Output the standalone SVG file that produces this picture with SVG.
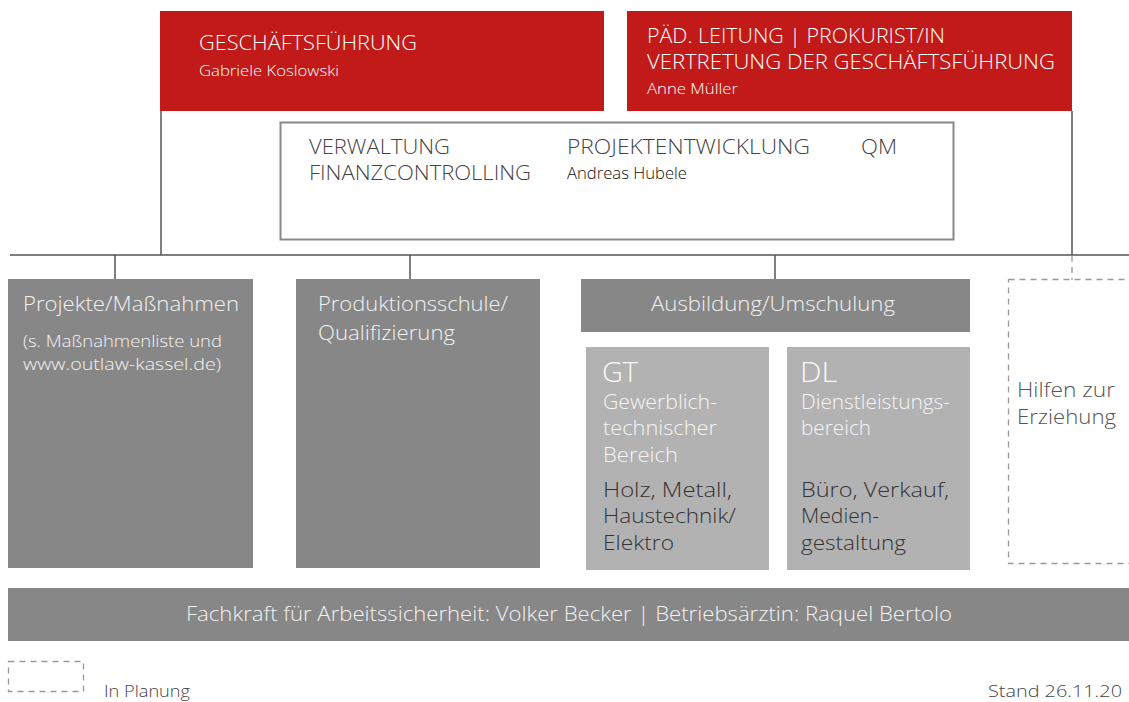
<svg xmlns="http://www.w3.org/2000/svg" width="1129" height="702" viewBox="0 0 1129 702">
<style>
text{font-family:"Open Sans","Noto Sans","Liberation Sans",sans-serif;font-weight:300;}
.red{fill:#c11a19;}
.dk{fill:#878787;}
.lt{fill:#b2b2b2;}
.ln{stroke:#555;stroke-width:1.5;fill:none;}
.dash{stroke:#999;stroke-width:1.3;fill:none;stroke-dasharray:6 5;}
.h1{font-size:19.5px;fill:#fff;}
.s1{font-size:15px;fill:#fff;}
.mh{font-size:20px;fill:#444;}
.wt{font-size:20px;fill:#f2f2f2;}
.big{font-size:27px;fill:#fafafa;}
.wt2{font-size:19.5px;fill:#f5f5f5;}
.bk{font-size:19.5px;fill:#333;}
</style>
<g id="connectors">
<line class="ln" x1="161" y1="111" x2="161" y2="255"/>
<line class="ln" x1="1072" y1="111" x2="1072" y2="255"/>
<line class="ln" x1="10" y1="255" x2="1129" y2="255"/>
<line class="ln" x1="115" y1="255" x2="115" y2="279"/>
<line class="ln" x1="410" y1="255" x2="410" y2="279"/>
<line class="ln" x1="775" y1="255" x2="775" y2="279"/>
<line class="dash" x1="1072" y1="256" x2="1072" y2="280"/>
</g>
<g id="gf">
<rect class="red" x="160" y="11" width="444" height="100"/>
<text class="h1" x="199" y="50" textLength="218" lengthAdjust="spacingAndGlyphs">GESCHÄFTSFÜHRUNG</text>
<text class="s1" x="199" y="76" textLength="140" lengthAdjust="spacingAndGlyphs">Gabriele Koslowski</text>
</g>
<g id="paed">
<rect class="red" x="627" y="11" width="445" height="100"/>
<text class="h1" x="647" y="43" textLength="298" lengthAdjust="spacingAndGlyphs">PÄD. LEITUNG | PROKURIST/IN</text>
<text class="h1" x="647" y="69" textLength="408" lengthAdjust="spacingAndGlyphs">VERTRETUNG DER GESCHÄFTSFÜHRUNG</text>
<text class="s1" x="647" y="94" textLength="91" lengthAdjust="spacingAndGlyphs">Anne Müller</text>
</g>
<g id="verwaltung">
<rect x="280.5" y="122.5" width="673" height="117" fill="#fff" stroke="#888" stroke-width="2"/>
<text class="mh" x="309" y="154" textLength="141" lengthAdjust="spacingAndGlyphs">VERWALTUNG</text>
<text class="mh" x="309" y="180" textLength="222" lengthAdjust="spacingAndGlyphs">FINANZCONTROLLING</text>
<text class="mh" x="567" y="154" textLength="243" lengthAdjust="spacingAndGlyphs">PROJEKTENTWICKLUNG</text>
<text class="mh" x="861" y="154" textLength="36" lengthAdjust="spacingAndGlyphs">QM</text>
<text x="567" y="179" font-size="15.5" fill="#111" textLength="120" lengthAdjust="spacingAndGlyphs">Andreas Hubele</text>
</g>
<g id="projekte">
<rect class="dk" x="8" y="279" width="245" height="289"/>
<text class="wt" x="23" y="311" textLength="216" lengthAdjust="spacingAndGlyphs">Projekte/Maßnahmen</text>
<text x="23" y="347" font-size="17" fill="#f2f2f2" textLength="199" lengthAdjust="spacingAndGlyphs">(s. Maßnahmenliste und</text>
<text x="23" y="370" font-size="17" fill="#f2f2f2" textLength="198" lengthAdjust="spacingAndGlyphs">www.outlaw-kassel.de)</text>
</g>
<g id="produktion">
<rect class="dk" x="296" y="279" width="244" height="289"/>
<text class="wt" x="318" y="311" textLength="190" lengthAdjust="spacingAndGlyphs">Produktionsschule/</text>
<text class="wt" x="318" y="340" textLength="137" lengthAdjust="spacingAndGlyphs">Qualifizierung</text>
</g>
<g id="ausbildung">
<rect class="dk" x="581" y="279" width="389" height="53"/>
<text class="wt" x="651" y="311" textLength="244" lengthAdjust="spacingAndGlyphs">Ausbildung/Umschulung</text>
</g>
<g id="gt">
<rect class="lt" x="586" y="347" width="183" height="223"/>
<text class="big" x="602" y="382" textLength="36" lengthAdjust="spacingAndGlyphs">GT</text>
<text class="wt2" x="603" y="409" textLength="114" lengthAdjust="spacingAndGlyphs">Gewerblich-</text>
<text class="wt2" x="603" y="435" textLength="114" lengthAdjust="spacingAndGlyphs">technischer</text>
<text class="wt2" x="603" y="462" textLength="75" lengthAdjust="spacingAndGlyphs">Bereich</text>
<text class="bk" x="603" y="497" textLength="129" lengthAdjust="spacingAndGlyphs">Holz, Metall,</text>
<text class="bk" x="603" y="523" textLength="133" lengthAdjust="spacingAndGlyphs">Haustechnik/</text>
<text class="bk" x="603" y="550" textLength="71" lengthAdjust="spacingAndGlyphs">Elektro</text>
</g>
<g id="dl">
<rect class="lt" x="787" y="347" width="183" height="223"/>
<text class="big" x="800" y="382" textLength="37" lengthAdjust="spacingAndGlyphs">DL</text>
<text class="wt2" x="801" y="409" textLength="149" lengthAdjust="spacingAndGlyphs">Dienstleistungs-</text>
<text class="wt2" x="801" y="435" textLength="70" lengthAdjust="spacingAndGlyphs">bereich</text>
<text class="bk" x="801" y="497" textLength="148" lengthAdjust="spacingAndGlyphs">Büro, Verkauf,</text>
<text class="bk" x="801" y="523" textLength="78" lengthAdjust="spacingAndGlyphs">Medien-</text>
<text class="bk" x="801" y="550" textLength="105" lengthAdjust="spacingAndGlyphs">gestaltung</text>
</g>
<g id="hilfen">
<rect class="dash" x="1008.5" y="279.5" width="130" height="284"/>
<text x="1017" y="397" font-size="19.5" fill="#555" textLength="98" lengthAdjust="spacingAndGlyphs">Hilfen zur</text>
<text x="1017" y="424" font-size="19.5" fill="#555" textLength="99" lengthAdjust="spacingAndGlyphs">Erziehung</text>
</g>
<g id="sicherheit">
<rect class="dk" x="8" y="588" width="1121" height="53"/>
<text class="wt" x="186" y="621" textLength="766" lengthAdjust="spacingAndGlyphs">Fachkraft für Arbeitssicherheit: Volker Becker | Betriebsärztin: Raquel Bertolo</text>
</g>
<g id="legend">
<rect class="dash" x="8.5" y="661.5" width="75" height="30"/>
<text x="104" y="697" font-size="16" fill="#444" textLength="86" lengthAdjust="spacingAndGlyphs">In Planung</text>
<text x="988" y="697" font-size="16" fill="#444" textLength="134" lengthAdjust="spacingAndGlyphs">Stand 26.11.20</text>
</g>
</svg>
